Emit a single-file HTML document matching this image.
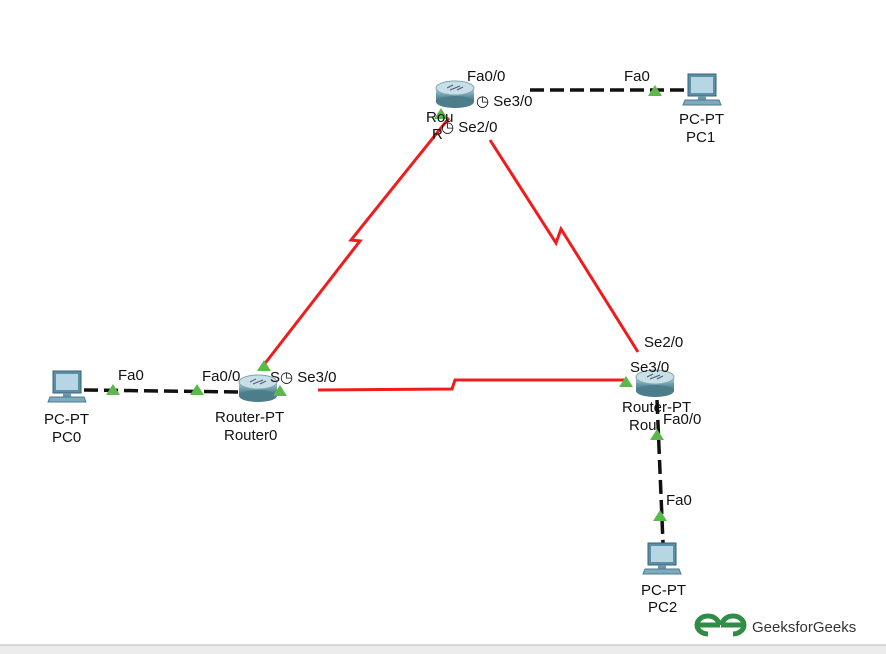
<!DOCTYPE html>
<html><head><style>
html,body{margin:0;padding:0;background:#fff;}
svg{display:block;font-family:"Liberation Sans",Arial,sans-serif;}
text{font-size:15px;fill:#111;}
</style></head><body>
<svg width="886" height="654" viewBox="0 0 886 654">
<defs>
<linearGradient id="rg" x1="0" y1="0" x2="0" y2="1">
<stop offset="0" stop-color="#b9d6de"/><stop offset="0.5" stop-color="#6d9eab"/><stop offset="1" stop-color="#3e6f7c"/>
</linearGradient>
<g id="router">
<rect x="-19" y="-4" width="38" height="14" fill="url(#rg)"/>
<ellipse cx="0" cy="10" rx="19" ry="6" fill="#4c7d8a"/>
<ellipse cx="0" cy="-4" rx="19" ry="7" fill="#c7dfe6" stroke="#7fa6b0"/>
<path d="M-8 -4 L-2 -7 M2 -2 L8 -5 M-5 -2 L5 -6" stroke="#557" stroke-width="1" fill="none"/>
</g>
<g id="pc">
<rect x="-14" y="-17" width="28" height="22" fill="#5a8fa6" stroke="#38627a"/>
<rect x="-11" y="-14" width="22" height="16" fill="#b6d6e4"/>
<rect x="-4" y="5" width="8" height="4" fill="#6c97ab"/>
<path d="M-17 9 L17 9 L19 14 L-19 14 Z" fill="#7fa9bd" stroke="#4c7a90"/>
</g>
<path id="tri" d="M-7 5 L0 -6 L7 5 Z" fill="#5cb84a"/>
</defs>

<g stroke="#ee1c1c" stroke-width="3" fill="none">
<path d="M449 118 L351 240 L360 241 L263 366"/>
<path d="M490 140 L556 243 L561 229 L638 352"/>
<path d="M318 390 L452 389 L455 380 L626 380"/>
</g>
<g stroke="#111" stroke-width="3.5" fill="none" stroke-dasharray="14,6">
<path d="M530 90 L690 90"/>
<path d="M84 390 L240 392"/>
<path d="M657 400 L663 543"/>
</g>

<use href="#router" x="455" y="92"/>
<use href="#router" x="258" y="386"/>
<use href="#router" x="655" y="381"/>
<use href="#pc" x="702" y="91"/>
<use href="#pc" x="67" y="388"/>
<use href="#pc" x="662" y="560"/>

<use href="#tri" x="655" y="91"/>
<use href="#tri" x="113" y="390"/>
<use href="#tri" x="197" y="390"/>
<use href="#tri" x="264" y="366"/>
<use href="#tri" x="280" y="391"/>
<use href="#tri" x="626" y="382"/>
<use href="#tri" x="657" y="435"/>
<use href="#tri" x="660" y="516"/>
<use href="#tri" x="441" y="114"/>

<text x="467" y="81">Fa0/0</text>
<text x="476" y="106">◷ Se3/0</text>
<text x="426" y="122">Rou</text>
<text x="432" y="139">R</text>
<text x="441" y="132">◷ Se2/0</text>
<text x="624" y="81">Fa0</text>
<text x="679" y="124">PC-PT</text>
<text x="686" y="142">PC1</text>

<text x="118" y="380">Fa0</text>
<text x="202" y="381">Fa0/0</text>
<text x="270" y="382">S◷ Se3/0</text>
<text x="44" y="424">PC-PT</text>
<text x="52" y="442">PC0</text>
<text x="215" y="422">Router-PT</text>
<text x="224" y="440">Router0</text>

<text x="644" y="347">Se2/0</text>
<text x="630" y="372">Se3/0</text>
<text x="622" y="412">Router-PT</text>
<text x="629" y="430">Rou</text>
<text x="663" y="424">Fa0/0</text>
<text x="666" y="505">Fa0</text>
<text x="641" y="595">PC-PT</text>
<text x="648" y="612">PC2</text>

<g fill="none" stroke="#2f8d46" stroke-width="5">
<path d="M719 625 A11 9 0 1 0 708 634 M697 625 L720 625"/>
<path d="M722 625 A11 9 0 1 1 733 634 M744 625 L721 625"/>
</g>
<text x="752" y="632" style="font-size:15px;fill:#333">GeeksforGeeks</text>

<rect x="0" y="645" width="886" height="9" fill="#ececec"/>
<line x1="0" y1="645" x2="886" y2="645" stroke="#bbb"/>
</svg>
</body></html>
